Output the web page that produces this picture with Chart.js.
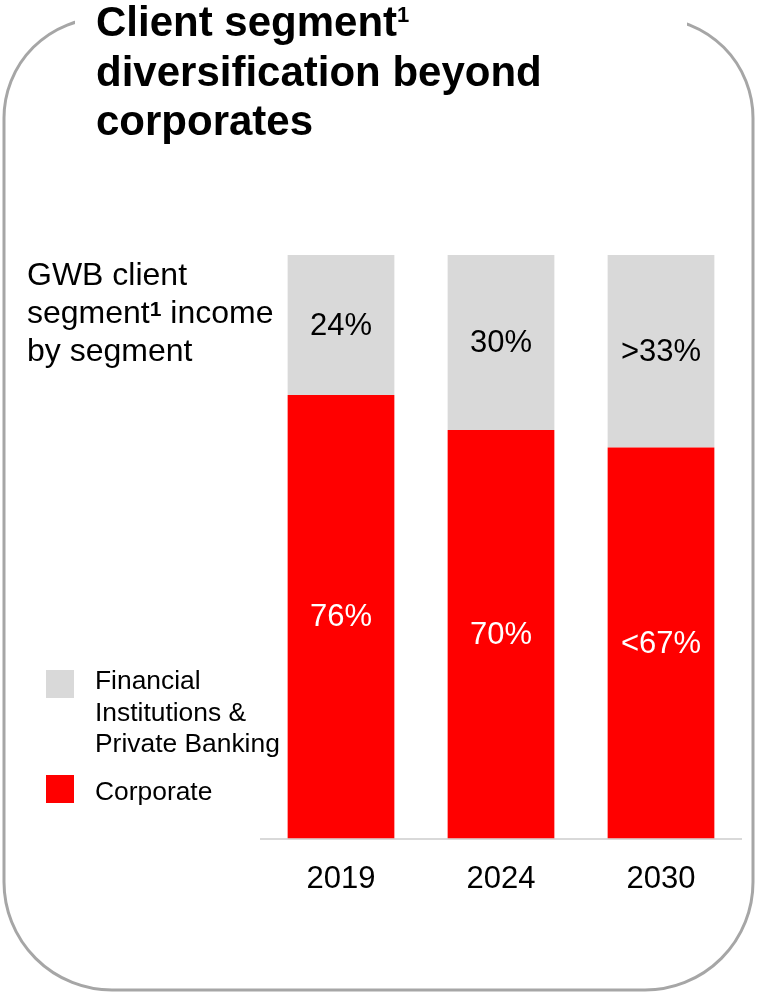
<!DOCTYPE html>
<html>
<head>
<meta charset="utf-8">
<script src="https://cdn.jsdelivr.net/npm/chart.js@4.4.1/dist/chart.umd.min.js"></script>
<style>
  html, body { margin:0; padding:0; background:#ffffff; }
  #wrap { position:relative; width:758px; height:993px; overflow:hidden; background:#fff; }
  #c { position:absolute; left:0; top:0; }
  .txt { position:absolute; font-family:"Liberation Sans", Arial, sans-serif; color:#000; white-space:nowrap; z-index:2; }
  #title { left:96px; top:-2.8px; font-size:42px; font-weight:bold; line-height:49.5px; }
  #note { left:27px; top:255px; font-size:32px; line-height:38px; }
  .sup { position:relative; font-weight:bold; line-height:0; }
</style>
</head>
<body>
<div id="wrap">
  <canvas id="c" width="758" height="993"></canvas>
  <div id="title" class="txt">Client segment<span class="sup" style="font-size:22px;top:-14.5px;">1</span><br>diversification beyond<br>corporates</div>
  <div id="note" class="txt">GWB client<br>segment<span class="sup" style="font-size:21px;top:-7px;">1</span> income<br>by segment</div>
</div>
<script>
// ---- data ----
const years = ['2019', '2024', '2030'];
const corporate = [76, 70, 67];
const finInst = [24, 30, 33];
const corporateLabels = ['76%', '70%', '<67%'];
const finInstLabels = ['24%', '30%', '>33%'];
const corporateLegend = ['Corporate'];
const finInstLegend = ['Financial', 'Institutions &', 'Private Banking'];

const FONT = '"Liberation Sans", Arial, sans-serif';
const RED = '#FF0000';
const GREY = '#D9D9D9';

const framePlugin = {
  id: 'frame',
  beforeDraw(chart) {
    const ctx = chart.ctx;
    ctx.save();
    ctx.fillStyle = '#ffffff';
    ctx.fillRect(0, 0, chart.width, chart.height);
    ctx.strokeStyle = '#A6A6A6';
    ctx.lineWidth = 3;
    ctx.beginPath();
    ctx.roundRect(4, 18, 749, 972, [100, 100, 108, 108]);
    ctx.stroke();
    // gap in the frame behind the title
    ctx.fillStyle = '#ffffff';
    ctx.fillRect(75, 0, 612, 30);
    ctx.restore();
  }
};

const valueLabelPlugin = {
  id: 'valueLabels',
  afterDatasetsDraw(chart) {
    const ctx = chart.ctx;
    ctx.save();
    ctx.font = '31px ' + FONT;
    ctx.textAlign = 'center';
    ctx.textBaseline = 'middle';
    chart.data.datasets.forEach((ds, di) => {
      const meta = chart.getDatasetMeta(di);
      meta.data.forEach((bar, i) => {
        const p = bar.getProps(['x', 'y', 'base'], true);
        ctx.fillStyle = ds.labelColor;
        ctx.fillText(ds.valueLabels[i], p.x, (p.y + p.base) / 2 + 1);
      });
    });
    ctx.restore();
  }
};

const legendPlugin = {
  id: 'customLegend',
  afterDraw(chart) {
    const ctx = chart.ctx;
    ctx.save();
    ctx.font = '26.4px ' + FONT;
    ctx.textAlign = 'left';
    ctx.textBaseline = 'alphabetic';
    ctx.fillStyle = '#000';
    // order: financial institutions first, corporate second
    const items = [
      { ds: chart.data.datasets[1], box: 670, base: 689 },
      { ds: chart.data.datasets[0], box: 775, base: 800 }
    ];
    items.forEach(it => {
      ctx.fillStyle = it.ds.backgroundColor;
      ctx.fillRect(46, it.box, 28, 28);
      ctx.fillStyle = '#000';
      it.ds.legendLines.forEach((line, k) => {
        ctx.fillText(line, 95, it.base + k * 31.5);
      });
    });
    ctx.restore();
  }
};

new Chart(document.getElementById('c'), {
  type: 'bar',
  data: {
    labels: years,
    datasets: [
      { label: corporateLegend.join(' '), data: corporate, backgroundColor: RED,
        valueLabels: corporateLabels, labelColor: '#FFFFFF', legendLines: corporateLegend },
      { label: finInstLegend.join(' '), data: finInst, backgroundColor: GREY,
        valueLabels: finInstLabels, labelColor: '#000000', legendLines: finInstLegend }
    ]
  },
  options: {
    responsive: false,
    animation: false,
    devicePixelRatio: 1,
    layout: { padding: { left: 261, right: 17, top: 255, bottom: 0 } },
    plugins: { legend: { display: false }, tooltip: { enabled: false }, title: { display: false } },
    datasets: { bar: { categoryPercentage: 1, barPercentage: 0.667, borderWidth: 0 } },
    scales: {
      x: {
        stacked: true,
        grid: { display: false, drawTicks: false },
        border: { display: true, color: GREY, width: 2 },
        ticks: { color: '#000', font: { family: FONT, size: 31 }, padding: 22 },
        afterFit(s) { s.height = 154.5; }
      },
      y: { stacked: true, min: 0, max: 100, display: false }
    }
  },
  plugins: [framePlugin, valueLabelPlugin, legendPlugin]
});
</script>
</body>
</html>
